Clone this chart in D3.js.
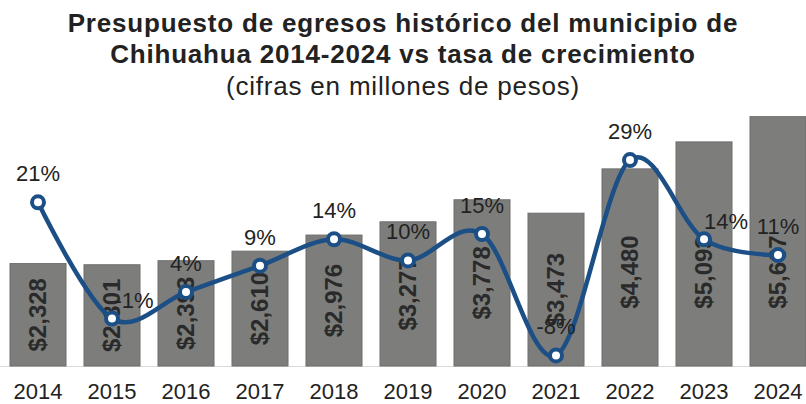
<!DOCTYPE html>
<html>
<head>
<meta charset="utf-8">
<script src="https://cdn.jsdelivr.net/npm/d3@7/dist/d3.min.js"></script>
<style>
  html, body { margin: 0; padding: 0; background: #fff; }
  svg { display: block; font-family: "Liberation Sans", Arial, sans-serif; }
</style>
</head>
<body>
<svg id="chart" width="806" height="404"></svg>
<script>
const years = ["2014","2015","2016","2017","2018","2019","2020","2021","2022","2023","2024"];
const budget = [2328, 2301, 2393, 2610, 2976, 3277, 3778, 3473, 4480, 5093, 5667];
const growth = [21, -1, 4, 9, 14, 10, 15, -8, 29, 14, 11];
const titleLines = [
  "Presupuesto de egresos histórico del municipio de",
  "Chihuahua 2014-2024 vs tasa de crecimiento"
];
const subtitle = "(cifras en millones de pesos)";

const W = 806, H = 404;
const baseY = 366, topY = 102;
const svg = d3.select("#chart");

const x = d3.scaleBand().domain(years).range([1, 815]).paddingInner(0.243).paddingOuter(0.1215);
const y = d3.scaleLinear().domain([0, 6000]).range([baseY, topY]);
const y2 = d3.scaleLinear().domain([-10, 40]).range([baseY, topY]);

// Title
const t = svg.append("g").attr("fill", "#222").attr("text-anchor", "middle");
t.selectAll("text.title").data(titleLines).enter().append("text")
  .attr("class", "title")
  .attr("x", W / 2).attr("y", (d, i) => 32 + i * 31)
  .attr("font-size", 26).attr("font-weight", "bold").attr("letter-spacing", 0.8).text(d => d);
t.append("text").attr("x", W / 2).attr("y", 95).attr("font-size", 26)
  .attr("letter-spacing", 0.8).text(subtitle);

// Baseline axis
const xAxis = d3.axisBottom(x).tickSize(0).tickPadding(18);
const ax = svg.append("g").attr("transform", `translate(0,${baseY})`).call(xAxis);
ax.select(".domain").attr("stroke", "#d9d9d9").attr("stroke-width", 1).attr("d", `M0,0.5H${W}`);
ax.selectAll("text").attr("font-size", 22).attr("fill", "#222")
  .attr("font-family", "Liberation Sans, Arial, sans-serif").attr("dy", null).attr("y", 33);

// Bars
const data = years.map((yr, i) => ({ yr, v: budget[i], g: growth[i] }));
svg.append("g").selectAll("rect").data(data).enter().append("rect")
  .attr("x", d => x(d.yr)).attr("width", x.bandwidth())
  .attr("y", d => y(d.v)).attr("height", d => baseY - y(d.v))
  .attr("fill", "#7d7e7c").attr("stroke", "#6e6f6d").attr("stroke-width", 1);

// Bar value labels (rotated)
const fmt = d3.format(",");
svg.append("g").selectAll("text").data(data).enter().append("text")
  .attr("transform", d => {
    const cx = x(d.yr) + x.bandwidth() / 2;
    const cy = Math.max((y(d.v) + baseY) / 2, 272);
    return `translate(${cx + 8},${cy}) rotate(-90)`;
  })
  .attr("text-anchor", "middle").attr("font-size", 24).attr("font-weight", "bold")
  .attr("fill", "#2a2a2a").text(d => "$" + fmt(d.v));

// Growth line
const px = d => x(d.yr) + x.bandwidth() / 2;
const line = d3.line().x(px).y(d => y2(d.g)).curve(d3.curveCatmullRom.alpha(0));
svg.append("path").datum(data).attr("d", line)
  .attr("fill", "none").attr("stroke", "#1c4f85").attr("stroke-width", 4.5)
  .attr("stroke-linejoin", "round");
svg.append("g").selectAll("circle").data(data).enter().append("circle")
  .attr("cx", px).attr("cy", d => y2(d.g)).attr("r", 6)
  .attr("fill", "#fff").attr("stroke", "#1c4f85").attr("stroke-width", 4);

// Growth labels
const rightSide = new Set(["2015", "2023"]);
svg.append("g").selectAll("text").data(data).enter().append("text")
  .attr("x", d => px(d) + (rightSide.has(d.yr) ? 22 : 0))
  .attr("y", d => y2(d.g) + (rightSide.has(d.yr) ? -10 : -21))
  .attr("text-anchor", "middle").attr("font-size", 22).attr("fill", "#222")
  .text(d => d.g + "%");
</script>
</body>
</html>
